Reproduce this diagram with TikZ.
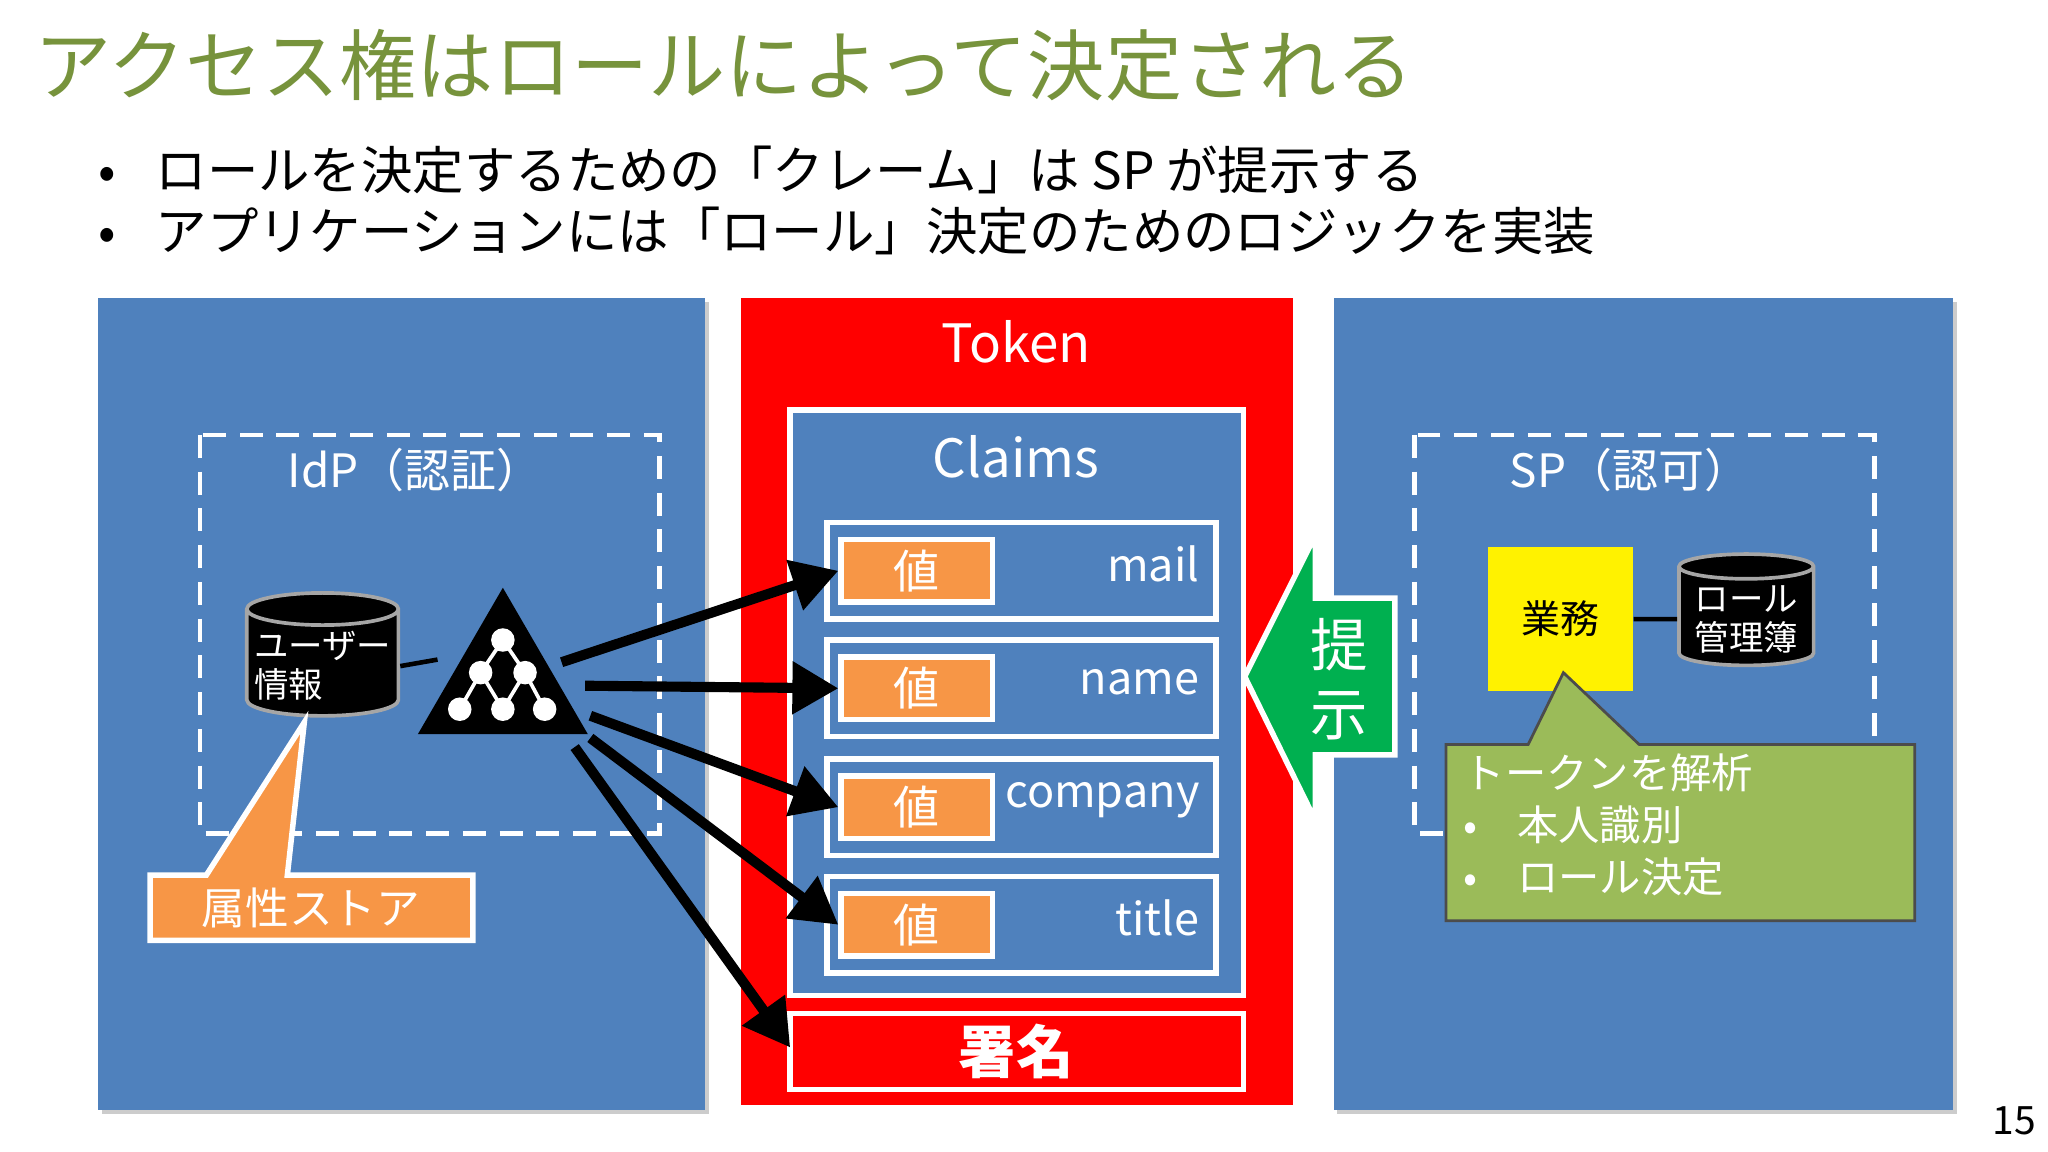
\documentclass[tikz,border=0pt]{standalone}
\usepackage{fontspec}
\setmainfont{Noto Sans CJK JP}
\usetikzlibrary{shapes.geometric,arrows.meta}
\definecolor{pblue}{HTML}{4F81BD}
\definecolor{porange}{HTML}{F79646}
\definecolor{pgreen}{HTML}{00B050}
\definecolor{lgreen}{HTML}{9BBB59}
\definecolor{tgreen}{HTML}{77933C}
\begin{document}
\begin{tikzpicture}[x=0.01cm,y=-0.01cm,
 panel/.style={fill=pblue,draw=none},
 row/.style={draw=white,line width=1.2pt,fill=pblue},
 val/.style={draw=white,line width=1.2pt,fill=porange,text=white,font=\fontsize{10}{10}\selectfont,minimum width=1.16cm,minimum height=0.48cm,inner sep=0pt},
 lab/.style={text=white,font=\fontsize{9.8}{10}\selectfont,anchor=east,inner sep=0pt},
 dbox/.style={draw=white,line width=1pt,dash pattern=on 5pt off 3pt},
 arr/.style={line width=2.2pt,-{Triangle[length=10pt,width=11pt]}},
 cyl/.style={cylinder,shape border rotate=90,aspect=0.22,fill=black,draw=gray!70,line width=0.8pt,text=white,align=left,font=\fontsize{7.5}{8.5}\selectfont,inner sep=1pt}]
\useasboundingbox (0,0) rectangle (1568,882);
\fill[white] (0,0) rectangle (1568,882);
\node[anchor=west,text=tgreen,font=\fontsize{16.8}{17}\selectfont,inner sep=0] (title) at (26,50) {アクセス権はロールによって決定される};
\node[anchor=west,font=\fontsize{11.2}{11}\selectfont,inner sep=0] (b1) at (75,130) {•\hspace{0.3cm}ロールを決定するための「クレーム」は SP が提示する};
\node[anchor=west,font=\fontsize{11.2}{11}\selectfont,inner sep=0] (b2) at (75,177) {•\hspace{0.3cm}アプリケーションには「ロール」決定のためのロジックを実装};
% panels
\fill[gray!40] (78,231) rectangle (543,853);
\fill[panel] (75,228) rectangle (540,850);
\fill[red] (567,228) rectangle (990,846);
\fill[gray!40] (1024,231) rectangle (1498,853);
\fill[panel] (1021,228) rectangle (1495,850);
\node[text=white,font=\fontsize{11.5}{12}\selectfont] (token) at (778,262) {Token};
\draw[row] (605,314) rectangle (952,762);
\node[text=white,font=\fontsize{11.5}{12}\selectfont] (claims) at (778,350) {Claims};
\foreach \n/\y/\t in {r1/437/mail,r2/527/name,r3/618/company,r4/708/title}{
  \draw[row] (633,\y-37) rectangle (931,\y+37);
  \node[val] (\n) at (702,\y) {値};
  \node[lab] at (919,\y-5) {\t};
}
\draw[draw=white,line width=1.2pt,fill=red] (605,776) rectangle (952,834);
\node[text=white,font=\bfseries\fontsize{12.5}{13}\selectfont] (sig) at (778,805) {署名};
\coordinate (sigL) at (605,802);
% IdP
\draw[dbox] (153,333) rectangle (505,638);
\node[text=white,font=\fontsize{10}{11}\selectfont] (idp) at (318,360) {IdP（認証）};
\node[cyl,minimum width=1.16cm,minimum height=0.82cm] (user) at (247,510) {ユーザー\\情報};
% triangle icon
\fill[black] (385,450) -- (450,562) -- (320,562) -- cycle;
\foreach \a/\b in {385/490,368/515,402/515,352/543,385/543,417/543}{\coordinate (c\a\b) at (\a,\b);}
\draw[white,line width=0.8pt] (c385490)--(c368515)--(c352543) (c368515)--(c385543) (c385490)--(c402515)--(c417543) (c402515)--(c385543);
\foreach \a/\b in {385/490,368/515,402/515,352/543,385/543,417/543}{\fill[white] (\a,\b) circle (9);}
\draw[black,line width=1pt] (user.east) -- (335,505);
\coordinate (t1) at (430,507);\coordinate (t2) at (448,525);\coordinate (t3) at (452,548);\coordinate (t4) at (452,565);\coordinate (t5) at (440,572);
\draw[arr] (t1) -- (r1.west);
\draw[arr] (t2) -- (r2.west);
\draw[arr] (t3) -- (r3.west);
\draw[arr] (t4) -- (r4.west);
\draw[arr] (t5) -- (sigL);
% callout left
\draw[draw=white,line width=1.2pt,fill=porange] (115,670) -- (158,670) -- (233,553) -- (220,670) -- (362,670) -- (362,720) -- (115,720) -- cycle;
\node[text=white,font=\fontsize{9.5}{10}\selectfont] (store) at (238,695) {属性ストア};
% green arrow
\draw[draw=white,line width=1.2pt,fill=pgreen] (953,518) -- (1007,410) -- (1007,458) -- (1068,458) -- (1068,578) -- (1007,578) -- (1007,628) -- cycle;
\node[text=white,font=\fontsize{12.5}{13}\selectfont,align=center] (teiji) at (1025,520) {提\\[2pt]示};
% SP
\draw[dbox] (1083,333) rectangle (1435,638);
\node[text=white,font=\fontsize{10}{11}\selectfont] (sp) at (1248,360) {SP（認可）};
\node[fill=yellow,minimum width=1.11cm,minimum height=1.1cm,inner sep=0,font=\fontsize{8.5}{9}\selectfont] (gyomu) at (1194.5,474) {業務};
\node[cyl,minimum width=1.03cm,minimum height=0.8cm] (role) at (1337,474) {ロール\\管理簿};
\draw[black,line width=1pt] (gyomu.east) -- (role.west);
\draw[draw=gray!60!black,line width=0.6pt,fill=lgreen] (1107,570) -- (1170,570) -- (1197,515) -- (1255,570) -- (1466,570) -- (1466,705) -- (1107,705) -- cycle;
\node[anchor=north west,text=white,align=left,font=\fontsize{9}{11.4}\selectfont,inner sep=0] (note) at (1120,576) {トークンを解析\\•\hspace{0.3cm}本人識別\\•\hspace{0.3cm}ロール決定};
\node[font=\fontsize{8.5}{9}\selectfont] (pg) at (1542,858) {15};
\end{tikzpicture}
\end{document}
